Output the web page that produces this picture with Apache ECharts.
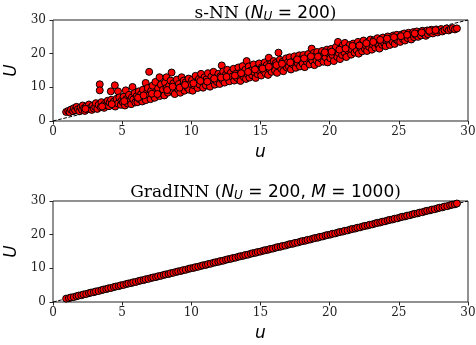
<!DOCTYPE html>
<html>
<head>
<meta charset="utf-8">
<script src="https://cdn.jsdelivr.net/npm/echarts@6/dist/echarts.min.js"></script>
<style>html,body{margin:0;padding:0;background:#fff;}#c{width:476px;height:345px;}</style>
</head>
<body>
<div id="c"></div>
<script>
var xTicks = [0, 5, 10, 15, 20, 25, 30];
var yTicks = [0, 10, 20, 30];
var diagonal = [[0, 0], [30, 30]];

var snnData = [
[0.95,2.7],[1.1,3.0],[1.2,2.6],[1.3,3.4],[1.45,2.9],[1.5,3.8],[1.6,3.2],[1.7,4.2],[1.8,3.5],[1.9,2.9],[2.0,4.0],
[2.1,3.3],[2.15,4.6],[2.25,3.8],[2.3,3.0],[2.4,4.3],[2.5,3.5],[2.6,4.9],[2.7,3.9],[2.8,3.3],[2.85,4.5],[2.95,3.7],
[3.05,4.2],[3.1,5.3],[3.2,3.6],[3.3,4.8],[3.38,10.9],[3.38,9.1],[3.45,4.1],[3.5,5.6],[3.6,4.5],[3.7,3.9],[3.75,5.1],[3.85,4.7],[3.95,6.0],
[4.05,4.4],[4.1,5.5],[4.18,8.8],[4.2,6.3],[4.3,4.9],[4.4,5.8],[4.47,10.6],[4.5,4.3],[4.6,6.6],[4.7,8.8],[4.7,5.2],[4.8,7.0],[4.9,4.8],[4.95,6.0],
[5.05,5.6],[5.1,7.2],[5.2,4.6],[5.26,9.1],[5.3,6.5],[5.4,5.2],[5.5,7.8],[5.55,6.0],[5.65,5.0],[5.75,10.1],[5.7,7.0],[5.8,6.4],[5.9,8.3],[5.95,5.5],
[6.05,7.4],[6.1,5.6],[6.2,8.8],[6.25,6.5],[6.35,7.9],[6.45,5.8],[6.5,9.3],[6.6,7.0],[6.7,11.3],[6.7,6.2],[6.8,8.5],[6.85,9.8],[6.95,14.6],[6.95,7.6],
[7.05,6.5],[7.1,9.0],[7.2,10.5],[7.25,7.8],[7.35,6.9],[7.4,11.6],[7.5,8.6],[7.6,9.7],[7.7,13.0],[7.7,7.4],[7.8,10.8],[7.9,8.3],[7.95,9.3],
[8.05,7.6],[8.1,11.4],[8.2,13.0],[8.2,9.8],[8.3,8.4],[8.4,10.5],[8.5,12.0],[8.57,14.4],[8.6,9.0],[8.7,11.2],[8.8,8.0],[8.85,10.0],[8.95,12.3],
[9.05,9.4],[9.1,11.0],[9.2,8.4],[9.3,13.0],[9.35,10.3],[9.45,12.0],[9.5,9.0],[9.6,11.5],[9.7,10.0],[9.8,12.6],[9.85,9.3],[9.95,11.0],
[10.05,12.2],[10.1,9.0],[10.2,10.6],[10.3,13.4],[10.35,11.5],[10.45,9.8],[10.55,12.5],[10.6,10.8],[10.7,14.0],[10.8,11.7],[10.85,9.9],[10.95,13.0],
[11.05,10.6],[11.1,12.4],[11.2,14.2],[11.3,11.3],[11.35,10.2],[11.45,13.2],[11.55,12.0],[11.6,14.6],[11.7,10.8],[11.8,12.9],[11.85,11.6],[11.95,14.0],
[12.05,11.0],[12.1,13.3],[12.2,16.5],[12.25,12.2],[12.3,14.7],[12.4,11.4],[12.5,13.8],[12.6,15.2],[12.65,12.6],[12.75,11.8],[12.85,14.3],[12.95,13.2],
[13.05,15.5],[13.1,12.0],[13.2,14.0],[13.3,12.8],[13.4,15.9],[13.45,13.5],[13.55,11.9],[13.65,14.7],[13.7,16.3],[13.8,13.0],[13.9,15.2],[13.95,12.5],
[14.0,17.8],[14.05,14.0],[14.15,16.2],[14.2,12.9],[14.3,15.0],[14.4,13.6],[14.5,16.8],[14.55,14.5],[14.65,12.8],[14.75,15.6],[14.8,13.9],[14.9,17.1],[14.95,14.8],
[15.05,13.5],[15.1,16.0],[15.2,15.0],[15.3,17.4],[15.35,14.2],[15.45,16.6],[15.55,13.7],[15.6,18.8],[15.65,15.5],[15.75,17.0],[15.8,14.6],[15.9,16.2],[15.95,17.8],
[16.05,15.0],[16.1,17.2],[16.2,14.3],[16.3,20.3],[16.3,16.3],[16.4,18.2],[16.5,15.5],[16.6,17.6],[16.65,14.8],[16.75,16.8],[16.85,18.6],[16.9,15.9],[16.95,17.3],
[17.05,16.2],[17.1,18.9],[17.2,15.3],[17.3,17.6],[17.35,16.8],[17.45,19.2],[17.55,15.8],[17.6,18.0],[17.7,17.1],[17.8,19.5],[17.85,16.2],[17.95,18.4],
[18.05,17.0],[18.1,19.6],[18.2,16.0],[18.3,18.3],[18.35,17.6],[18.45,19.9],[18.55,16.8],[18.6,18.8],[18.7,21.5],[18.75,17.9],[18.85,20.2],[18.9,16.6],[18.95,19.1],
[19.05,18.0],[19.1,20.5],[19.2,17.2],[19.3,19.4],[19.35,18.6],[19.45,20.8],[19.55,17.6],[19.6,19.9],[19.7,18.9],[19.8,21.2],[19.85,17.4],[19.95,20.0],
[20.05,18.6],[20.1,21.4],[20.2,19.6],[20.3,17.8],[20.35,20.6],[20.45,22.0],[20.55,19.0],[20.6,23.5],[20.65,20.2],[20.75,18.4],[20.85,21.6],[20.9,19.6],[20.95,22.5],
[21.05,20.4],[21.1,23.2],[21.2,19.0],[21.3,21.8],[21.35,20.9],[21.45,22.6],[21.55,19.7],[21.6,21.3],[21.7,23.0],[21.8,20.3],[21.85,22.1],[21.95,21.0],
[22.05,23.5],[22.1,20.0],[22.2,21.9],[22.3,22.9],[22.35,20.7],[22.45,23.9],[22.55,21.4],[22.6,22.5],[22.7,20.8],[22.8,23.6],[22.85,22.0],[22.95,24.2],
[23.05,21.2],[23.1,22.8],[23.2,24.0],[23.3,21.8],[23.35,23.2],[23.45,24.6],[23.55,22.3],[23.6,21.5],[23.7,23.7],[23.8,22.6],[23.85,24.8],[23.95,23.0],
[24.05,22.2],[24.1,24.0],[24.2,25.1],[24.3,23.2],[24.35,22.6],[24.45,24.5],[24.55,23.6],[24.6,25.4],[24.7,22.9],[24.8,24.2],[24.85,25.6],[24.95,23.8],
[25.05,24.8],[25.1,23.5],[25.2,25.7],[25.3,24.3],[25.4,26.0],[25.45,23.9],[25.55,25.1],[25.65,24.6],[25.7,26.2],[25.8,25.3],[25.9,24.2],[25.95,25.8],
[26.05,26.4],[26.1,24.9],[26.2,25.6],[26.3,26.6],[26.4,25.0],[26.5,26.1],[26.6,25.4],[26.7,26.8],[26.8,25.9],[26.9,26.4],[26.95,25.3],
[27.05,26.9],[27.1,25.8],[27.25,26.4],[27.35,27.1],[27.45,26.0],[27.55,26.7],[27.7,27.2],[27.8,26.3],[27.9,26.9],
[28.05,27.3],[28.15,26.6],[28.3,27.0],[28.45,27.5],[28.6,26.9],[28.75,27.3],[28.9,27.6],[29.05,27.2],[29.2,27.5],
[2.35,3.6],[3.55,4.3],[4.25,5.0],[5.15,5.9],[6.15,6.9],[6.55,7.6],[7.15,8.1],[7.55,8.0],[8.25,9.2],[8.65,10.2],[9.15,9.9],[9.55,10.7],
[10.15,11.2],[10.65,11.9],[11.15,11.7],[11.65,12.6],[12.15,12.9],[12.55,13.1],[13.15,13.5],[13.6,14.2],[14.1,14.6],[14.6,15.3],[15.15,15.6],[15.6,16.1],
[16.15,16.6],[16.55,17.0],[17.15,17.4],[17.65,18.3],[18.15,18.6],[18.65,19.2],[19.15,19.1],[19.65,20.4],[20.15,20.6],[20.7,21.2],[21.15,21.5],[21.65,22.3],
[22.15,22.4],[22.65,23.1],[23.15,23.5],[23.65,24.1],[24.15,24.5],[24.65,24.9],[25.15,25.2],[25.6,25.6],[26.15,26.0],[26.65,26.3],[27.2,26.8],[27.65,27.0]
];

var gradData = [
[0.95,1.0],[1.15,1.12],[1.3,1.35],[1.5,1.47],[1.7,1.72],[1.85,1.9],[2.05,2.02],[2.2,2.25],[2.4,2.38],[2.6,2.63],[2.75,2.8],[2.95,2.92],[3.1,3.14],[3.3,3.27],[3.5,3.52],[3.65,3.7],[3.85,3.83],[4.0,4.05],[4.2,4.18],[4.4,4.43],[4.55,4.6],[4.75,4.72],[4.9,4.95],[5.1,5.08],[5.3,5.33],[5.45,5.5],[5.65,5.62],[5.8,5.85],[6.0,5.97],[6.2,6.24],[6.35,6.4],[6.55,6.52],[6.7,6.75],[6.9,6.87],[7.1,7.13],[7.25,7.3],[7.45,7.42],[7.6,7.64],[7.8,7.77],[8.0,8.04],[8.15,8.2],[8.35,8.32],[8.5,8.55],[8.7,8.67],[8.9,8.93],[9.05,9.1],[9.25,9.22],[9.4,9.45],[9.6,9.57],[9.8,9.84],[9.95,10.0],[10.15,10.12],[10.3,10.35],[10.5,10.47],[10.7,10.73],[10.85,10.9],[11.05,11.02],[11.2,11.25],[11.4,11.37],[11.6,11.64],[11.75,11.8],[11.95,11.92],[12.1,12.15],[12.3,12.27],[12.5,12.54],[12.65,12.7],[12.85,12.82],[13.0,13.05],[13.2,13.17],[13.4,13.44],[13.55,13.6],[13.75,13.72],[13.9,13.95],[14.1,14.07],[14.3,14.34],[14.45,14.5],[14.65,14.62],[14.8,14.85],[15.0,14.97],[15.2,15.24],[15.35,15.4],[15.55,15.52],[15.7,15.75],[15.9,15.87],[16.1,16.14],[16.25,16.3],[16.45,16.42],[16.6,16.65],[16.8,16.77],[17.0,17.04],[17.15,17.2],[17.35,17.32],[17.5,17.55],[17.7,17.67],[17.9,17.94],[18.05,18.1],[18.25,18.22],[18.4,18.45],[18.6,18.57],[18.8,18.84],[18.95,19.0],[19.15,19.12],[19.3,19.35],[19.5,19.47],[19.7,19.74],[19.85,19.9],[20.05,20.02],[20.2,20.25],[20.4,20.37],[20.6,20.64],[20.75,20.8],[20.95,20.92],[21.1,21.15],[21.3,21.27],[21.5,21.54],[21.65,21.7],[21.85,21.82],[22.0,22.05],[22.2,22.17],[22.4,22.44],[22.55,22.6],[22.75,22.72],[22.9,22.95],[23.1,23.07],[23.3,23.34],[23.45,23.5],[23.65,23.62],[23.8,23.85],[24.0,23.97],[24.2,24.24],[24.35,24.4],[24.55,24.52],[24.7,24.75],[24.9,24.87],[25.1,25.14],[25.25,25.3],[25.45,25.42],[25.6,25.65],[25.8,25.77],[26.0,26.04],[26.15,26.2],[26.35,26.32],[26.5,26.55],[26.7,26.67],[26.9,26.94],[27.05,27.1],[27.25,27.22],[27.4,27.45],[27.6,27.57],[27.8,27.84],[27.95,28.0],[28.15,28.12],[28.3,28.35],[28.5,28.47],[28.7,28.74],[28.85,28.9],[29.05,29.02],[29.2,29.25]
];

var chart = echarts.init(document.getElementById('c'), null, {renderer: 'canvas'});

var titleRich = {
  t: {fontFamily: 'DejaVu Serif', fontSize: 17, fontWeight: 'normal', color: '#000'},
  m: {fontFamily: 'DejaVu Sans', fontStyle: 'italic', fontWeight: 'normal', fontSize: 17, color: '#000'},
  s: {fontFamily: 'DejaVu Sans', fontStyle: 'italic', fontWeight: 'normal', fontSize: 12, color: '#000', padding: [7, 0, 0, 0]},
  n: {fontFamily: 'DejaVu Sans', fontWeight: 'normal', fontSize: 17, color: '#000'}
};

function makeX(gi) {
  return {
    gridIndex: gi, type: 'value', min: 0, max: 30, interval: 5,
    name: 'u', nameLocation: 'middle', nameGap: 23,
    nameTextStyle: {fontFamily: 'DejaVu Sans', fontStyle: 'italic', fontSize: 17, color: '#000'},
    axisLine: {show: false},
    axisTick: {show: true, length: 3.5, lineStyle: {color: '#222', width: 1}},
    axisLabel: {margin: 5, fontFamily: 'DejaVu Serif', fontSize: 12, color: '#222'},
    splitLine: {show: false}
  };
}
function makeY(gi) {
  return {
    gridIndex: gi, type: 'value', min: 0, max: 30, interval: 10,
    name: 'U', nameLocation: 'middle', nameGap: 29, nameRotate: 90,
    nameTextStyle: {fontFamily: 'DejaVu Sans', fontStyle: 'italic', fontSize: 17, color: '#000'},
    axisLine: {show: false},
    axisTick: {show: true, length: 3.5, lineStyle: {color: '#222', width: 1}},
    axisLabel: {margin: 7, fontFamily: 'DejaVu Serif', fontSize: 12, color: '#222'},
    splitLine: {show: false}
  };
}

var scatterStyle = {color: '#ff0000', borderColor: '#000', borderWidth: 1, opacity: 1};

chart.setOption({
  animation: false,
  backgroundColor: '#fff',
  title: [
    {text: '{t|s-NN (}{m|N}{s|U}{n| = 200}{t|)}', left: 260.5, top: -1, textAlign: 'center',
     textStyle: {fontWeight: 'normal', rich: titleRich}},
    {text: '{t|GradINN (}{m|N}{s|U}{n| = 200, }{m|M}{n| = 1000}{t|)}', left: 260.5, top: 178, textAlign: 'center',
     textStyle: {fontWeight: 'normal', rich: titleRich}}
  ],
  grid: [
    {left: 53, right: 8, top: 20, height: 101, show: true, borderColor: '#222', borderWidth: 1, backgroundColor: 'transparent', containLabel: false, outerBoundsMode: 'none'},
    {left: 53, right: 8, top: 201, height: 101, show: true, borderColor: '#222', borderWidth: 1, backgroundColor: 'transparent', containLabel: false, outerBoundsMode: 'none'}
  ],
  xAxis: [makeX(0), makeX(1)],
  yAxis: [makeY(0), makeY(1)],
  series: [
    {type: 'line', xAxisIndex: 0, yAxisIndex: 0, data: diagonal, symbol: 'none', z: 1,
     lineStyle: {color: '#000', width: 1, type: [3.7, 1.6]}},
    {type: 'scatter', xAxisIndex: 0, yAxisIndex: 0, data: snnData, symbolSize: 7, z: 2, itemStyle: scatterStyle},
    {type: 'line', xAxisIndex: 1, yAxisIndex: 1, data: diagonal, symbol: 'none', z: 1,
     lineStyle: {color: '#000', width: 1, type: [3.7, 1.6]}},
    {type: 'scatter', xAxisIndex: 1, yAxisIndex: 1, data: gradData, symbolSize: 7, z: 2, itemStyle: scatterStyle}
  ]
});
</script>
</body>
</html>
